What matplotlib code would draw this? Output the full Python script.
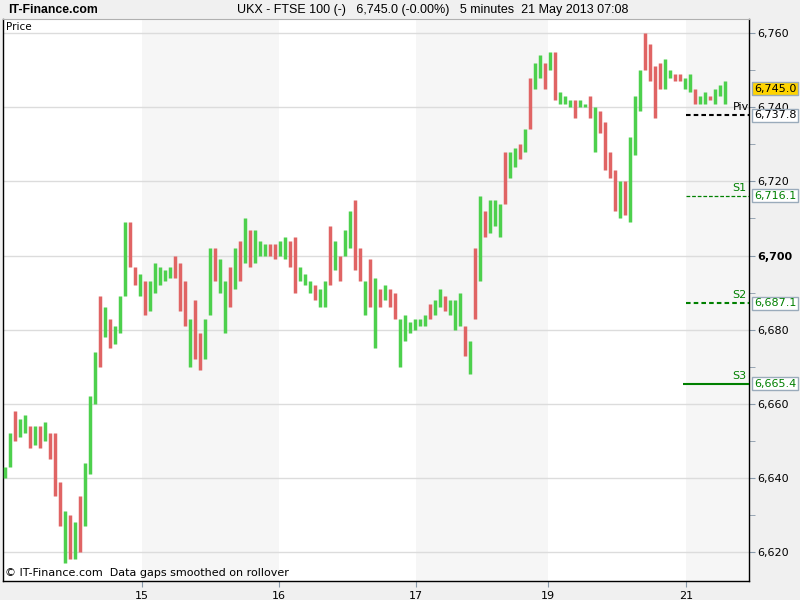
import numpy as np
import matplotlib.pyplot as plt
from matplotlib.transforms import blended_transform_factory

# 5-minute bars, sampled: low / high / direction (G = up, R = down)
lows = [6640, 6643, 6650, 6651, 6652, 6648, 6649, 6648, 6650, 6645,
        6635, 6627, 6617, 6618, 6618, 6620, 6627, 6641, 6660, 6670,
        6678, 6675, 6676, 6679, 6689, 6697, 6692, 6689, 6684, 6685,
        6690, 6692, 6693, 6694, 6694, 6685, 6681, 6670, 6672, 6669,
        6672, 6684, 6693, 6690, 6679, 6686, 6691, 6693, 6698, 6697,
        6698, 6700, 6700, 6700, 6699, 6700, 6699, 6697, 6690, 6693,
        6692, 6690, 6688, 6686, 6686, 6692, 6696, 6693, 6700, 6702,
        6696, 6693, 6684, 6686, 6675, 6686, 6688, 6686, 6683, 6670,
        6677, 6679, 6680, 6681, 6681, 6683, 6684, 6686, 6685, 6684,
        6680, 6681, 6673, 6668, 6683, 6693, 6705, 6706, 6708, 6705,
        6714, 6721, 6724, 6726, 6728, 6734, 6745, 6748, 6745, 6750,
        6742, 6741, 6741, 6740, 6737, 6740, 6740, 6737, 6728, 6733,
        6723, 6721, 6712, 6710, 6711, 6709, 6727, 6739, 6750, 6747,
        6737, 6745, 6745, 6748, 6747, 6747, 6745, 6744, 6741, 6741,
        6741, 6742, 6741, 6743, 6741]
highs = [6643, 6652, 6658, 6656, 6657, 6654, 6654, 6654, 6655, 6652,
         6652, 6639, 6631, 6630, 6628, 6635, 6644, 6662, 6674, 6689,
         6686, 6683, 6681, 6689, 6709, 6709, 6697, 6695, 6693, 6693,
         6698, 6697, 6696, 6697, 6700, 6698, 6693, 6683, 6688, 6679,
         6683, 6702, 6702, 6699, 6693, 6697, 6702, 6704, 6710, 6707,
         6707, 6704, 6703, 6703, 6703, 6704, 6705, 6704, 6705, 6697,
         6695, 6693, 6692, 6691, 6693, 6708, 6704, 6700, 6707, 6712,
         6715, 6702, 6693, 6699, 6694, 6691, 6692, 6691, 6690, 6683,
         6684, 6682, 6683, 6683, 6684, 6687, 6688, 6691, 6689, 6688,
         6688, 6690, 6681, 6677, 6702, 6716, 6712, 6715, 6715, 6714,
         6728, 6728, 6729, 6730, 6734, 6748, 6752, 6754, 6752, 6755,
         6755, 6744, 6743, 6742, 6742, 6742, 6741, 6743, 6740, 6739,
         6736, 6728, 6723, 6720, 6720, 6732, 6743, 6750, 6760, 6757,
         6751, 6752, 6753, 6750, 6749, 6749, 6748, 6749, 6745, 6743,
         6744, 6743, 6745, 6746, 6747]
dirs = ("GGRGGRGRGR" "RRGRGRGGGR" "GRGGGRRGRG" "GGGGRRRGRR"
        "GGRGGRGRGR" "GGGRRGGRRG" "GGRGGRGRGG" "RRGRGRGRRG"
        "GGGGGRGGRG" "GGRGRGRGGG" "RGGRGRGGRG" "RGGGRGGRGR"
        "RRRGRGGGRR" "RRGGRRGGRG" "GRGGG")

day_edges = [27.4, 54.8, 82.2, 108.6, 136.2]
day_labels = ['15', '16', '17', '19', '21']

last_price = 6745.0
pivot = 6737.8
supports = [6716.1, 6687.1, 6665.4]

green = '#4dd04d'
red = '#e06464'

fig = plt.figure(figsize=(8, 6), dpi=100, facecolor='#f0f0f0')
ax = fig.add_axes([3/800, 19/600, 746/800, 562/600], facecolor='white')

x = np.arange(len(lows))
cols = [green if d == 'G' else red for d in dirs]
ax.vlines(x, lows, highs, colors=cols, linewidth=2.5, zorder=3)

ax.set_xlim(-0.4, 148.8)
ax.set_ylim(6612.2, 6763.8)

# alternating day shading
ax.axvspan(day_edges[0], day_edges[1], color='#f6f6f6', zorder=0, lw=0)
ax.axvspan(day_edges[2], day_edges[3], color='#f6f6f6', zorder=0, lw=0)
ax.axvspan(day_edges[4], 148.8, color='#f6f6f6', zorder=0, lw=0)

yt = np.arange(6620, 6761, 20)
for v in yt:
    ax.axhline(v, color='#dcdcdc', lw=1, zorder=1)

ax.yaxis.tick_right()
ax.set_yticks(yt)
ax.set_yticklabels([f'{v:,}' for v in yt])
ax.set_yticks(np.arange(6630, 6761, 20), minor=True)
ax.tick_params(axis='y', which='both', length=4, color='#8899aa', labelsize=8, pad=2)
for lab in ax.get_yticklabels():
    if lab.get_text() == '6,700':
        lab.set_fontweight('bold')

ax.set_xticks(day_edges)
ax.set_xticklabels(day_labels)
ax.tick_params(axis='x', length=4, color='#8899aa', labelsize=8, pad=3)

for s in ['left', 'bottom', 'right']:
    ax.spines[s].set_color('black')
    ax.spines[s].set_linewidth(1)
ax.spines['top'].set_color('#b0b0b0')
ax.spines['top'].set_linewidth(0.8)

tr = blended_transform_factory(ax.transAxes, ax.transData)

# pivot and support lines
x0 = day_edges[4]
ax.hlines(pivot, x0, 148.8, colors='black', linestyles=(0, (2.2, 1.5)), lw=1.5, zorder=4)
ax.hlines(supports[0], x0, 148.8, colors='#008000', linestyles=(0, (3, 1.5)), lw=0.9, zorder=4)
ax.hlines(supports[1], x0, 148.8, colors='#008000', linestyles=(0, (2.2, 1.5)), lw=1.5, zorder=4)
ax.hlines(supports[2], x0 - 0.6, 148.8, colors='#008000', lw=1.5, zorder=4)

ax.text(1.0, pivot + 0.8, 'Piv', transform=tr, ha='right', va='bottom',
        fontsize=8, color='black', clip_on=False, zorder=5)
for name, v in zip(['S1', 'S2', 'S3'], supports):
    ax.text(0.996, v + 0.8, name, transform=tr, ha='right', va='bottom',
            fontsize=8, color='#008000', zorder=5)

box = dict(boxstyle='square,pad=0.15', ec='#9aabbb', lw=1)
ax.text(1.0065, last_price, f'{last_price:,.1f}', transform=tr, ha='left', va='center',
        fontsize=8, color='black', clip_on=False, zorder=6,
        bbox=dict(box, fc='#ffd400'))
ax.text(1.0065, pivot, f'{pivot:,.1f}', transform=tr, ha='left', va='center',
        fontsize=8, color='black', clip_on=False, zorder=6, bbox=dict(box, fc='white'))
for v in supports:
    ax.text(1.0065, v, f'{v:,.1f}', transform=tr, ha='left', va='center',
            fontsize=8, color='#008000', clip_on=False, zorder=6, bbox=dict(box, fc='white'))

ax.text(0.004, 0.995, 'Price', transform=ax.transAxes, ha='left', va='top', fontsize=7.5)
ax.text(0.003, 0.006, '\u00a9 IT-Finance.com  Data gaps smoothed on rollover',
        transform=ax.transAxes, ha='left', va='bottom', fontsize=8)

head = ['Liberation Sans', 'DejaVu Sans']
fig.text(8/800, 1 - 10/600, 'IT-Finance.com', ha='left', va='center', fontsize=8.8,
         family=head, weight='bold')
fig.text(237/800, 1 - 10/600,
         'UKX - FTSE 100 (-)   6,745.0 (-0.00%)   5 minutes  21 May 2013 07:08',
         ha='left', va='center', fontsize=9, family=head)

fig.savefig('out.png', dpi=100, facecolor=fig.get_facecolor())
